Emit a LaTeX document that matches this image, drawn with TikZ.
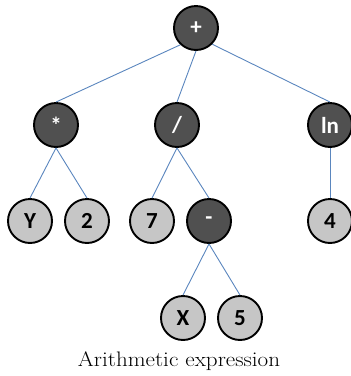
\documentclass[tikz,border=0pt]{standalone}
\usepackage{fontspec}
\newfontfamily\nodefont{Carlito}
\definecolor{darkfill}{HTML}{505050}
\definecolor{lightfill}{HTML}{C6C6C6}
\definecolor{edgeblue}{HTML}{5A86BE}
\tikzset{
  opnode/.style={circle, draw=black, line width=1.9pt, fill=darkfill, minimum size=44pt, inner sep=0pt, text=white, font=\nodefont\bfseries\fontsize{23}{23}\selectfont},
  leafnode/.style={circle, draw=black, line width=1.9pt, fill=lightfill, minimum size=44pt, inner sep=0pt, text=black, font=\nodefont\bfseries\fontsize{23}{23}\selectfont},
  edge/.style={draw=edgeblue, line width=0.9pt}
}
\begin{document}
\begin{tikzpicture}[x=1pt,y=-1pt]
\useasboundingbox (0,0) rectangle (351,376);
\node[opnode] (plus) at (196,28) {+};
\node[opnode] (mul) at (56,125) {*};
\node[opnode] (div) at (177,125) {/};
\node[opnode] (ln) at (330,125) {ln};
\node[leafnode] (y) at (30,221) {Y};
\node[leafnode] (two) at (87,221) {2};
\node[leafnode] (seven) at (152,221) {7};
\node[opnode] (minus) at (209,221) {-};
\node[leafnode] (four) at (330,221) {4};
\node[leafnode] (x) at (183,318) {X};
\node[leafnode] (five) at (240,318) {5};
\node[font=\fontsize{21}{21}\selectfont, anchor=base, xscale=1.1] (cap) at (179,366) {Arithmetic expression};
\path[edge] (plus.-133) -- (mul.north);
\path[edge] (plus.south) -- (div.north);
\path[edge] (plus.-45) -- (ln.north);
\path[edge] (mul.south) -- (y.north);
\path[edge] (mul.south) -- (two.north);
\path[edge] (div.south) -- (seven.north);
\path[edge] (div.south) -- (minus.north);
\path[edge] (ln.south) -- (four.north);
\path[edge] (minus.south) -- (x.north);
\path[edge] (minus.south) -- (five.north);
\end{tikzpicture}
\end{document}
